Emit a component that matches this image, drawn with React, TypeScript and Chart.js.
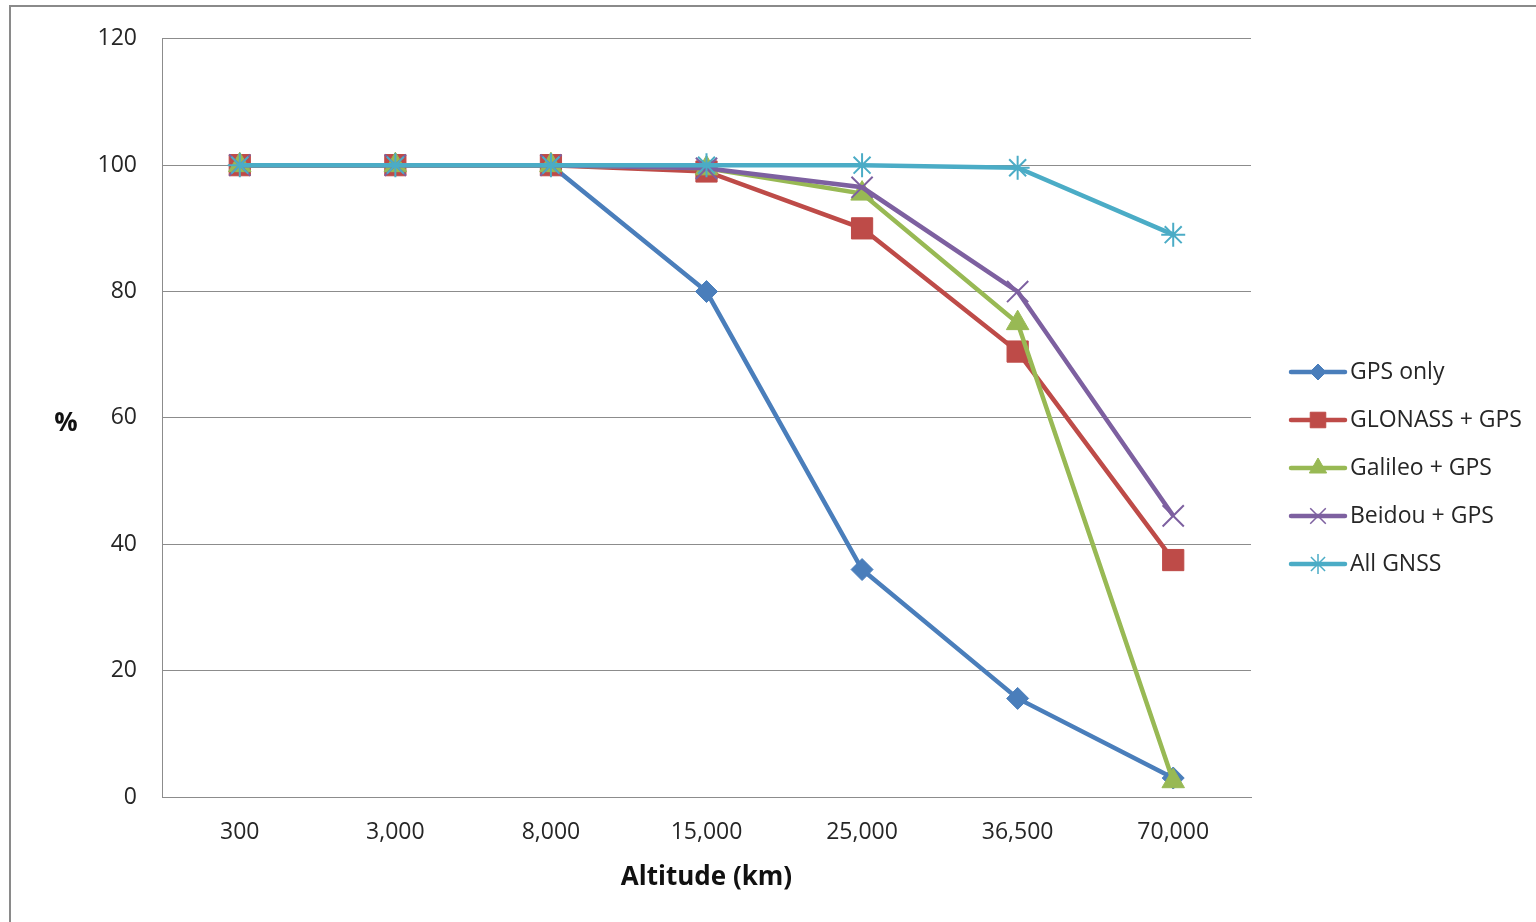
import React, { useEffect, useRef } from "react";
import { Chart, registerables } from "chart.js";
import { drawPoint } from "chart.js/helpers";

Chart.register(...registerables);

// Altitude bands (km) on the category axis
const altitudes = ["300", "3,000", "8,000", "15,000", "25,000", "36,500", "70,000"];

// Availability (%) per constellation combination
const gpsOnly = [100, 100, 100, 80, 36, 15.6, 3];
const glonassGps = [100, 100, 100, 99, 90, 70.5, 37.5];
const galileoGps = [100, 100, 100, 99.5, 95.5, 75, 2.5];
const beidouGps = [100, 100, 100, 99.5, 96.5, 80, 44.5];
const allGnss = [100, 100, 100, 100, 100, 99.6, 89];

const seriesNames = ["GPS only", "GLONASS + GPS", "Galileo + GPS", "Beidou + GPS", "All GNSS"];
const yTicks = [0, 20, 40, 60, 80, 100, 120];

const FONT = "'Open Sans', 'DejaVu Sans', sans-serif";
const GRID = "#8c8c8c";
const TEXT = "#262626";

const colors = ["#4a7ebb", "#be4b48", "#98b954", "#7d60a0", "#4bacc6"];
const markers = ["rectRot", "rect", "triangle", "crossRot", "star"];
const markerRadius = [11, 15, 13, 15, 12];
const markerBorder = [1, 1, 1, 2, 2];
const legendRadius = [8, 11, 10, 11, 10];

// Draws the "%" axis label (upright) and the line+marker legend on the right
const decorations = {
  id: "decorations",
  afterDraw(chart: any) {
    const { ctx, chartArea } = chart;
    ctx.save();
    ctx.fillStyle = "#111111";
    ctx.font = `bold 26px ${FONT}`;
    ctx.textAlign = "center";
    ctx.textBaseline = "middle";
    ctx.fillText("%", chartArea.left - 96, (chartArea.top + chartArea.bottom) / 2 + 6);

    const lineStart = chartArea.right + 40;
    const lineEnd = chartArea.right + 94;
    const textX = chartArea.right + 99;
    const spacing = 48;
    const n = chart.data.datasets.length;
    const centerY = chart.height / 2 + 7;
    chart.data.datasets.forEach((ds: any, i: number) => {
      const y = centerY + (i - (n - 1) / 2) * spacing;
      ctx.strokeStyle = ds.borderColor;
      ctx.lineWidth = 4.5;
      ctx.lineCap = "round";
      ctx.beginPath();
      ctx.moveTo(lineStart, y);
      ctx.lineTo(lineEnd, y);
      ctx.stroke();
      ctx.lineCap = "butt";
      ctx.fillStyle = ds.pointBackgroundColor;
      ctx.strokeStyle = ds.pointBorderColor;
      ctx.lineWidth = i >= 3 ? 1.5 : 1;
      drawPoint(
        ctx,
        { pointStyle: ds.pointStyle, rotation: 0, radius: legendRadius[i], borderWidth: ctx.lineWidth },
        (lineStart + lineEnd) / 2,
        y
      );
      ctx.fillStyle = TEXT;
      ctx.font = `23px ${FONT}`;
      ctx.textAlign = "left";
      ctx.textBaseline = "middle";
      ctx.fillText(seriesNames[i], textX, y);
    });
    ctx.restore();
  },
};

export default function App() {
  const canvasRef = useRef<HTMLCanvasElement | null>(null);

  useEffect(() => {
    const canvas = canvasRef.current;
    if (!canvas) return;
    const series = [gpsOnly, glonassGps, galileoGps, beidouGps, allGnss];
    const chart = new Chart(canvas, {
      type: "line",
      data: {
        labels: altitudes,
        datasets: series.map((values, i) => ({
          label: seriesNames[i],
          data: values,
          borderColor: colors[i],
          backgroundColor: colors[i],
          borderWidth: 4.5,
          pointStyle: markers[i] as any,
          pointRadius: markerRadius[i],
          pointBackgroundColor: colors[i],
          pointBorderColor: colors[i],
          pointBorderWidth: markerBorder[i],
          tension: 0,
          fill: false,
          order: series.length - i,
        })),
      },
      options: {
        animation: false,
        responsive: false,
        maintainAspectRatio: false,
        layout: { padding: { left: 0, top: 34, right: 285, bottom: 0 } },
        plugins: {
          legend: { display: false },
          tooltip: { enabled: false },
        },
        scales: {
          x: {
            type: "category",
            offset: true,
            grid: { display: false, drawTicks: false },
            border: { display: true, color: GRID, width: 1 },
            ticks: {
              color: TEXT,
              font: { family: FONT, size: 23 },
              padding: 22,
              maxRotation: 0,
              autoSkip: false,
            },
            title: {
              display: true,
              text: "Altitude (km)",
              color: "#111111",
              font: { family: FONT, size: 26, weight: "bold" },
              padding: { top: 0, bottom: 29 },
            },
            afterFit(scale: any) {
              scale.height = 125;
            },
          },
          y: {
            type: "linear",
            min: 0,
            max: 120,
            afterBuildTicks(scale: any) {
              scale.ticks = yTicks.map((v) => ({ value: v }));
            },
            grid: { color: GRID, lineWidth: 1, drawTicks: false },
            border: { display: true, color: GRID, width: 1 },
            ticks: {
              color: TEXT,
              font: { family: FONT, size: 23 },
              padding: 25,
            },
            afterFit(scale: any) {
              scale.width = 162;
            },
          },
        },
      },
      plugins: [decorations],
    });
    return () => chart.destroy();
  }, []);

  return (
    <div style={{ position: "absolute", left: 0, top: 0, width: 1536, height: 922, overflow: "hidden", background: "#ffffff" }}>
      <div
        style={{
          position: "absolute",
          left: 9,
          top: 5,
          width: 1600,
          height: 1000,
          border: "2px solid #8a8a8a",
        }}
      />
      <canvas ref={canvasRef} width={1536} height={922} style={{ position: "absolute", left: 0, top: 0, display: "block" }} />
    </div>
  );
}
